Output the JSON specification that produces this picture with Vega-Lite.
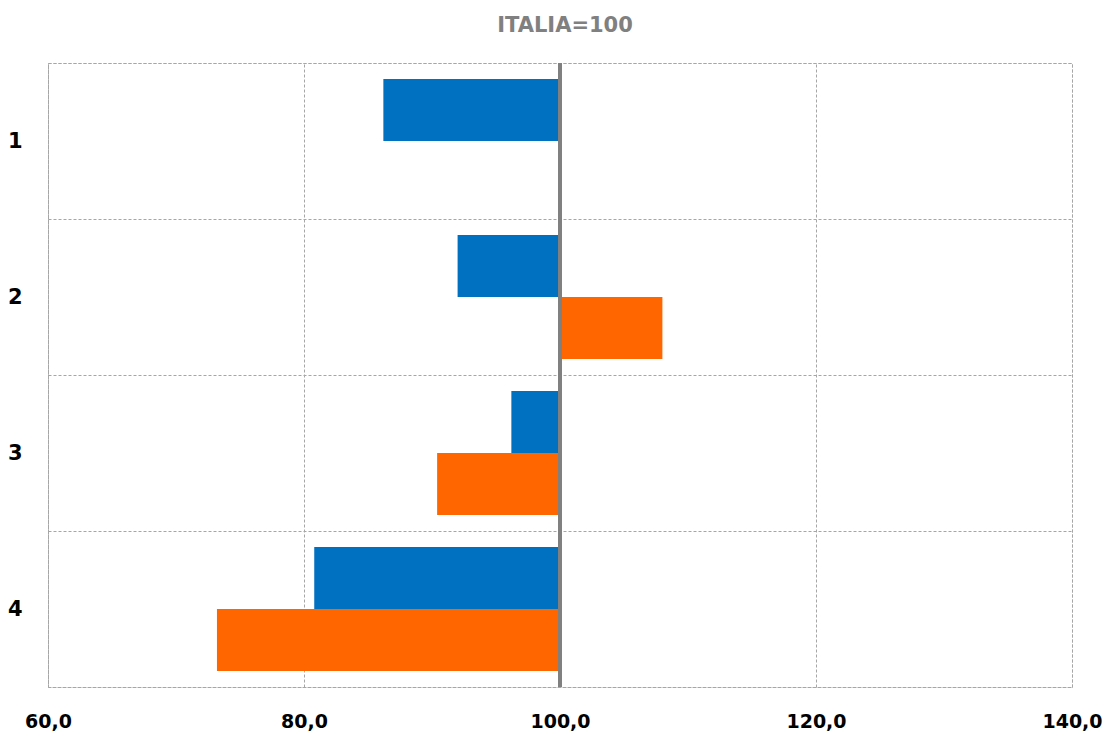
{
  "$schema": "https://vega.github.io/schema/vega-lite/v6.json",
  "width": 1024,
  "height": 624,
  "autosize": {"type": "none"},
  "padding": {"left": 48, "top": 63, "right": 35, "bottom": 48},
  "config": {
    "font": "DejaVu Sans",
    "view": {"stroke": "#a6a6a6", "strokeDash": [3, 2], "strokeWidth": 1}
  },
  "title": {
    "text": "ITALIA=100",
    "font": "DejaVu Sans",
    "fontSize": 21,
    "fontWeight": "bold",
    "color": "#808080",
    "anchor": "middle",
    "baseline": "alphabetic",
    "offset": 27,
    "dx": 5,
    "dy": 28
  },
  "data": {
    "values": [
      {"gruppo": "1", "serie": "A", "valore": 86.2},
      {"gruppo": "2", "serie": "A", "valore": 92.0},
      {"gruppo": "2", "serie": "B", "valore": 108.0},
      {"gruppo": "3", "serie": "A", "valore": 96.2},
      {"gruppo": "3", "serie": "B", "valore": 90.4},
      {"gruppo": "4", "serie": "A", "valore": 80.8},
      {"gruppo": "4", "serie": "B", "valore": 73.2}
    ]
  },
  "layer": [
    {
      "mark": {"type": "bar"},
      "encoding": {
        "y": {
          "field": "gruppo",
          "type": "nominal",
          "scale": {"paddingInner": 0, "paddingOuter": 0},
          "axis": {
            "title": null,
            "tickBand": "extent",
            "grid": true,
            "gridDash": [3, 2],
            "gridColor": "#a6a6a6",
            "domain": false,
            "ticks": false,
            "labelAngle": 0,
            "labelFontSize": 21,
            "labelFontWeight": "bold",
            "labelColor": "#000000",
            "labelPadding": 26
          }
        },
        "yOffset": {
          "field": "serie",
          "type": "nominal",
          "scale": {"paddingInner": 0, "paddingOuter": 0.258}
        },
        "x": {
          "field": "valore",
          "type": "quantitative",
          "scale": {"domain": [60, 140], "nice": false, "zero": false},
          "axis": {
            "title": null,
            "values": [60, 80, 100, 120, 140],
            "labelExpr": "replace(format(datum.value, '.1f'), '.', ',')",
            "grid": true,
            "gridDash": [3, 2],
            "gridColor": "#a6a6a6",
            "domain": false,
            "ticks": false,
            "labelFontSize": 19,
            "labelFontWeight": "bold",
            "labelColor": "#000000",
            "labelPadding": 25,
            "labelFlush": false
          }
        },
        "x2": {"datum": 100},
        "color": {
          "field": "serie",
          "type": "nominal",
          "scale": {"domain": ["A", "B"], "range": ["#0070C0", "#FF6600"]},
          "legend": null
        }
      }
    },
    {
      "mark": {"type": "rule", "color": "#808080", "strokeWidth": 4},
      "encoding": {"x": {"datum": 100}}
    }
  ]
}
